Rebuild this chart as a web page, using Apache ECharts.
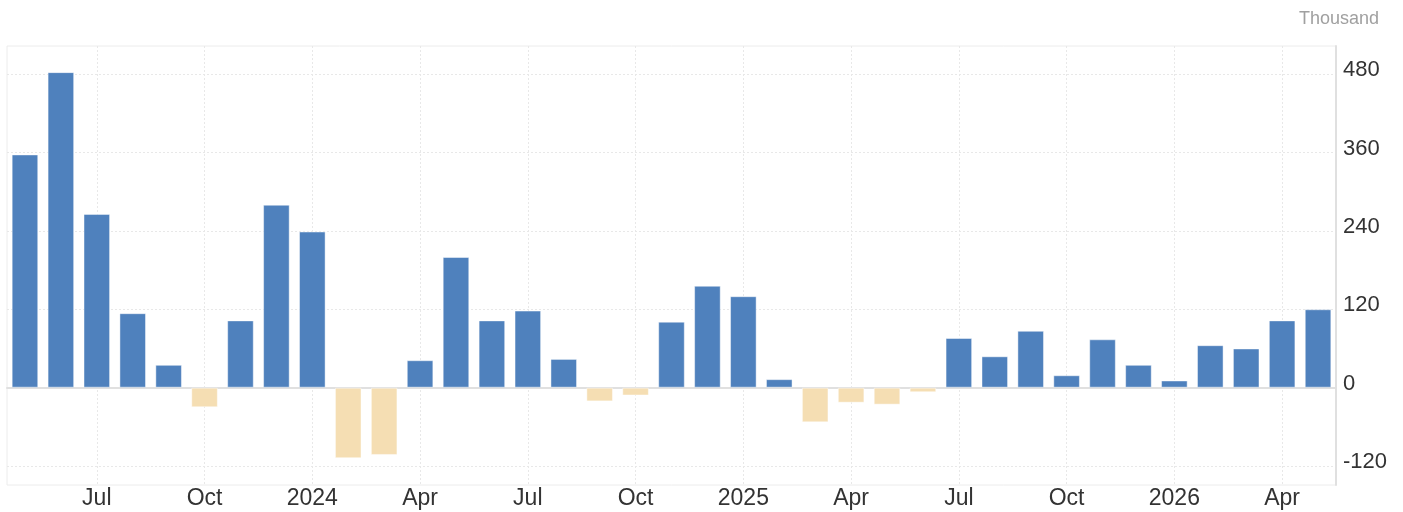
<!DOCTYPE html>
<html>
<head>
<meta charset="utf-8">
<title>Chart</title>
<script src="https://cdn.jsdelivr.net/npm/echarts@6/dist/echarts.min.js"></script>
<style>
  html, body { margin: 0; padding: 0; background: #fff; }
  #main { width: 1403px; height: 512px; }
</style>
</head>
<body>
<div id="main"></div>
<script>
// months from May 2023 to May 2026
var months = [
    '2023-05', '2023-06', '2023-07', '2023-08', '2023-09', '2023-10', '2023-11', '2023-12',
    '2024-01', '2024-02', '2024-03', '2024-04', '2024-05', '2024-06', '2024-07', '2024-08',
    '2024-09', '2024-10', '2024-11', '2024-12', '2025-01', '2025-02', '2025-03', '2025-04',
    '2025-05', '2025-06', '2025-07', '2025-08', '2025-09', '2025-10', '2025-11', '2025-12',
    '2026-01', '2026-02', '2026-03', '2026-04', '2026-05'
];
var values = [
    357, 483, 266, 114, 35, -30, 103, 280,
    239, -108, -103, 42, 200, 103, 118, 44,
    -21, -12, 101, 156, 140, 13, -53, -23,
    -26, -7, 76, 48, 87, 19, 74, 35,
    11, 65, 60, 103, 120
];
var yTicks = [-120, 0, 120, 240, 360, 480];
var monthNames = ['Jan', 'Feb', 'Mar', 'Apr', 'May', 'Jun', 'Jul', 'Aug', 'Sep', 'Oct', 'Nov', 'Dec'];

(function () {
    var myChart = echarts.init(document.getElementById('main'));
    var font = 'Liberation Sans, Arial, sans-serif';

    function isQuarter(index) {
        var m = parseInt(months[index].split('-')[1], 10);
        return m === 1 || m === 4 || m === 7 || m === 10;
    }

    var option = {
        animation: false,
        backgroundColor: '#fff',
        textStyle: { fontFamily: font },
        title: {
            text: 'Thousand',
            right: 19,
            top: 5,
            textStyle: { color: '#a0a0a0', fontSize: 18, fontWeight: 'normal', fontFamily: font }
        },
        grid: {
            left: 7,
            right: 67,
            top: 46,
            bottom: 27,
            show: true,
            borderColor: '#ececec',
            borderWidth: 1
        },
        xAxis: {
            type: 'category',
            data: months,
            boundaryGap: true,
            axisLine: { lineStyle: { color: '#e0e0e0', width: 2 } },
            axisTick: { show: false },
            axisLabel: {
                interval: function (index) { return isQuarter(index); },
                color: '#333',
                fontSize: 23,
                margin: 2,
                formatter: function (v) {
                    var p = v.split('-');
                    var m = parseInt(p[1], 10);
                    return m === 1 ? p[0] : monthNames[m - 1];
                }
            },
            splitLine: {
                show: true,
                alignWithLabel: true,
                interval: function (index) { return isQuarter(index); },
                lineStyle: { color: '#e8e8e8', type: [2, 2] }
            }
        },
        yAxis: {
            type: 'value',
            position: 'right',
            min: -149,
            max: 523,
            axisLine: { show: true, lineStyle: { color: '#e0e0e0', width: 2 } },
            axisTick: { show: false, customValues: yTicks },
            axisLabel: {
                customValues: yTicks,
                color: '#333',
                fontSize: 22,
                margin: 7,
                verticalAlign: 'bottom',
                lineHeight: 8
            },
            splitLine: {
                show: true,
                lineStyle: { color: '#e8e8e8', type: [2, 2] }
            }
        },
        series: [{
            type: 'bar',
            data: values,
            barCategoryGap: '26%',
            itemStyle: {
                color: function (p) { return p.value >= 0 ? '#4f81bd' : '#f5deb3'; },
                borderColor: 'rgba(255,255,255,0.45)',
                borderWidth: 1
            }
        }]
    };
    myChart.setOption(option);
    window.addEventListener('resize', function () {
        myChart.resize();
    });
})();
</script>
</body>
</html>
